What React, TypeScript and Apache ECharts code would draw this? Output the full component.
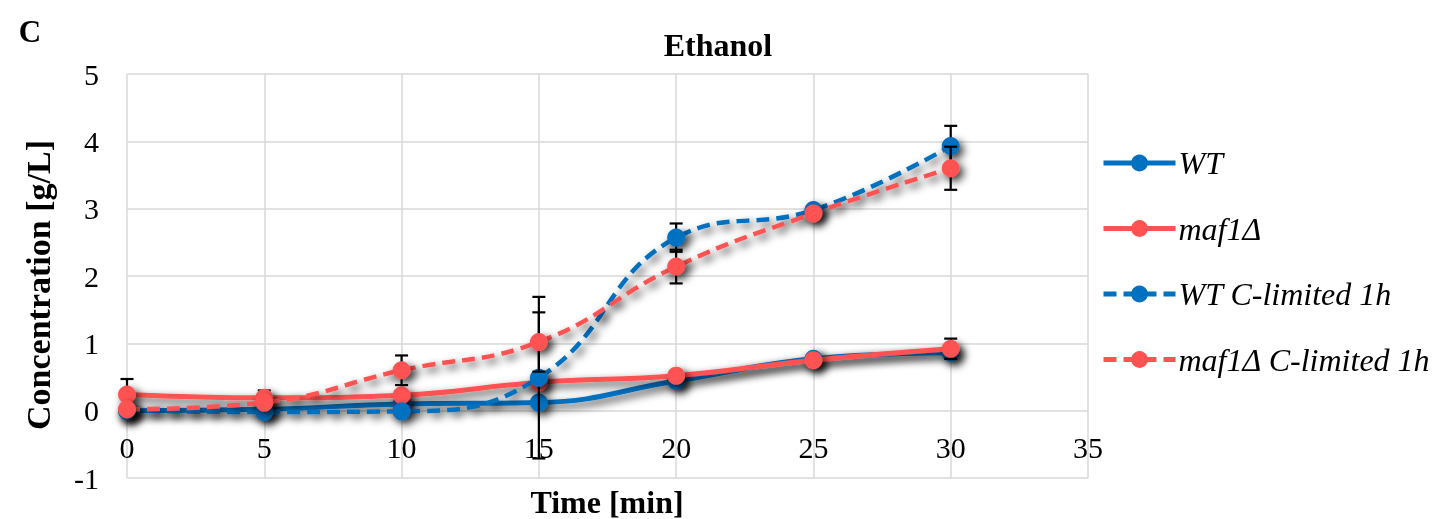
import React, { useEffect, useRef } from "react";
import * as echarts from "echarts";

const times = [0, 5, 10, 15, 20, 25, 30];
const wt = [0.0, 0.02, 0.1, 0.12, 0.44, 0.77, 0.86];
const maf1 = [0.24, 0.19, 0.23, 0.42, 0.52, 0.75, 0.92];
const wtC = [0.0, -0.02, -0.01, 0.49, 2.57, 2.98, 3.93];
const maf1C = [0.02, 0.12, 0.6, 1.02, 2.14, 2.93, 3.6];

const wtErr = [0, 0, 0, 0, 0, 0, 0];
const maf1Err = [0.23, 0.11, 0, 0, 0, 0, 0.15];
const wtCErr = [0, 0, 0, 1.2, 0.21, 0, 0.3];
const maf1CErr = [0, 0, 0.22, 0.44, 0.25, 0, 0.32];

const seriesNames = ["WT", "maf1\u0394", "WT C-limited 1h", "maf1\u0394 C-limited 1h"];
const xTicks = { min: 0, max: 35, interval: 5 };
const yTicks = { min: -1, max: 5, interval: 1 };

const BLUE = "#0070C0";
const RED = "#FF5353";
const SERIF = "'Liberation Serif', 'Times New Roman', serif";

export default function App() {
  const ref = useRef<HTMLDivElement>(null);
  useEffect(() => {
    if (!ref.current) return;
    const chart = echarts.init(ref.current, undefined, { renderer: "svg" });
    const shadow = {
      shadowColor: "rgba(0,0,0,0.75)",
      shadowBlur: 8,
      shadowOffsetX: 4,
      shadowOffsetY: 4,
    };
    const mk = (name: string, vals: number[], color: string, dashed: boolean, z: number) => ({
      type: "line",
      name,
      z,
      data: times.map((t, i) => [t, vals[i]]),
      smooth: 0.45,
      symbol: "circle",
      symbolSize: 18,
      showSymbol: true,
      lineStyle: {
        color,
        width: dashed ? 4.5 : 5,
        type: dashed ? [13, 7] : "solid",
        ...shadow,
      },
      itemStyle: { color, ...shadow },
    });
    const err = (name: string, vals: number[], errs: number[], z: number) => ({
      type: "custom",
      name,
      z,
      encode: { x: 0, y: 1 },
      data: times
        .map((t, i) => [t, vals[i], errs[i]])
        .filter((d) => d[2] > 0),
      renderItem: (params: any, api: any) => {
        const x = api.value(0);
        const y = api.value(1);
        const e = api.value(2);
        const top = api.coord([x, y + e]);
        const bot = api.coord([x, y - e]);
        const hw = 6.5;
        const st = { stroke: "#000", lineWidth: 2.2 };
        return {
          type: "group",
          children: [
            { type: "line", shape: { x1: top[0], y1: top[1], x2: bot[0], y2: bot[1] }, style: st },
            { type: "line", shape: { x1: top[0] - hw, y1: top[1], x2: top[0] + hw, y2: top[1] }, style: st },
            { type: "line", shape: { x1: bot[0] - hw, y1: bot[1], x2: bot[0] + hw, y2: bot[1] }, style: st },
          ],
        };
      },
    });

    chart.setOption({
      animation: false,
      grid: { left: 127, right: 347, top: 74, bottom: 41 },
      xAxis: {
        type: "value",
        ...xTicks,
        axisLine: { show: false, onZero: false },
        axisTick: { show: false },
        axisLabel: { color: "#000", fontFamily: SERIF, fontSize: 30, margin: -46 },
        splitLine: { show: true, lineStyle: { color: "#d9d9d9", width: 1.5 } },
      },
      yAxis: {
        type: "value",
        ...yTicks,
        axisLine: { show: false },
        axisTick: { show: false },
        axisLabel: { color: "#000", fontFamily: SERIF, fontSize: 30, margin: 28 },
        splitLine: { show: true, lineStyle: { color: "#d9d9d9", width: 1.5 } },
      },
      legend: {
        data: seriesNames,
        orient: "vertical",
        left: 1101,
        top: 147,
        padding: 0,
        itemWidth: 72,
        itemHeight: 21,
        itemGap: 33.5,
        textStyle: {
          color: "#000",
          fontFamily: SERIF,
          fontStyle: "italic",
          fontSize: 32,
          lineHeight: 30,
          padding: [0, 0, 0, -2],
        },
        itemStyle: { shadowBlur: 0, shadowOffsetX: 0, shadowOffsetY: 0, shadowColor: "transparent" },
        lineStyle: { width: 5, shadowBlur: 0, shadowOffsetX: 0, shadowOffsetY: 0, shadowColor: "transparent" },
      },
      graphic: [
        {
          type: "text",
          x: 30,
          y: 31,
          style: { text: "C", fontFamily: SERIF, fontWeight: "bold", fontSize: 31, fill: "#000", textAlign: "center", textVerticalAlign: "middle" },
        },
        {
          type: "text",
          x: 718,
          y: 45,
          style: { text: "Ethanol", fontFamily: SERIF, fontWeight: "bold", fontSize: 32, fill: "#000", textAlign: "center", textVerticalAlign: "middle" },
        },
        {
          type: "text",
          x: 607,
          y: 502,
          style: { text: "Time [min]", fontFamily: SERIF, fontWeight: "bold", fontSize: 32, fill: "#000", textAlign: "center", textVerticalAlign: "middle" },
        },
        {
          type: "text",
          x: 38,
          y: 285,
          rotation: Math.PI / 2,
          style: { text: "Concentration [g/L]", fontFamily: SERIF, fontWeight: "bold", fontSize: 34, fill: "#000", textAlign: "center", textVerticalAlign: "middle" },
        },
      ],
      series: [
        err("errWT", wt, wtErr, 1),
        mk(seriesNames[0], wt, BLUE, false, 2),
        err("errMaf1", maf1, maf1Err, 3),
        mk(seriesNames[1], maf1, RED, false, 4),
        err("errWTC", wtC, wtCErr, 5),
        mk(seriesNames[2], wtC, BLUE, true, 6),
        err("errMaf1C", maf1C, maf1CErr, 7),
        mk(seriesNames[3], maf1C, RED, true, 8),
      ],
    });
    return () => chart.dispose();
  }, []);
  return <div ref={ref} style={{ position: "fixed", left: 0, top: 0, width: 1435, height: 519 }} />;
}
